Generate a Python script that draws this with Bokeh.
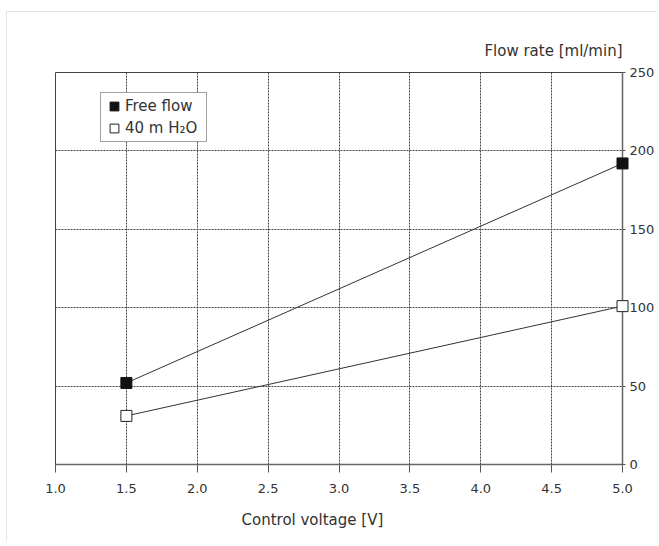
from bokeh.plotting import figure
from bokeh.models import (ColumnDataSource, Range1d, FixedTicker,
                          Legend, LegendItem, Title, NumeralTickFormatter)
from bokeh.embed import file_html
from bokeh.resources import INLINE

# ---- data ----
voltage = [1.5, 5.0]
free_flow = [52, 192]
h2o_40m = [31, 101]
x_ticks = [1.0, 1.5, 2.0, 2.5, 3.0, 3.5, 4.0, 4.5, 5.0]
y_ticks = [0, 50, 100, 150, 200, 250]
series_names = ["Free flow", "40 m H\u2082O"]
x_title = "Control voltage [V]"
y_title = "Flow rate [ml/min]"

FONT = "DejaVu Sans"
TXT = "#333333"
FS = "13px"
FS2 = "15px"

p = figure(width=650, height=530, x_range=Range1d(1.0, 5.0), y_range=Range1d(0, 250),
           output_backend="svg", toolbar_location=None, y_axis_location="right",
           min_border_left=48, min_border_right=35, min_border_top=60, min_border_bottom=78)
p.styles = {"border-top": "1px solid #e4e4e4", "border-left": "1px solid #e4e4e4",
            "margin-top": "11px", "margin-left": "6px"}

p.outline_line_color = "#444444"
p.outline_line_width = 1

# x axis
xa = p.xaxis[0]
xa.ticker = FixedTicker(ticks=x_ticks)
xa.formatter = NumeralTickFormatter(format="0.0")
xa.major_tick_out = 8
xa.major_tick_in = 0
xa.minor_tick_line_color = None
xa.axis_line_color = "#666666"
xa.axis_line_width = 1.5
xa.major_tick_line_color = "#555555"
xa.major_label_text_font = FONT
xa.major_label_text_font_size = FS
xa.major_label_text_color = TXT
xa.major_label_standoff = 11

# right y axis
ya = p.yaxis[0]
ya.ticker = FixedTicker(ticks=y_ticks)
ya.major_tick_out = 3
ya.major_tick_in = 0
ya.minor_tick_line_color = None
ya.axis_line_color = "#666666"
ya.axis_line_width = 1.5
ya.major_tick_line_color = "#555555"
ya.major_label_text_font = FONT
ya.major_label_text_font_size = FS
ya.major_label_text_color = TXT
ya.major_label_standoff = 4

# grids
for g in (p.xgrid[0], p.ygrid[0]):
    g.grid_line_color = "#444444"
    g.grid_line_dash = "2 1"
    g.grid_line_width = 1
p.xgrid[0].ticker = FixedTicker(ticks=x_ticks)
p.ygrid[0].ticker = FixedTicker(ticks=y_ticks)

# y axis title at top right
t = Title(text=y_title, align="right", text_font=FONT,
          text_font_size=FS2, text_font_style="normal", text_color=TXT,
          standoff=26)
p.add_layout(t, "above")

# x axis title below
tb = Title(text=x_title, align="left", offset=186, text_font=FONT,
           text_font_size=FS2, text_font_style="normal", text_color=TXT,
           standoff=26)
p.add_layout(tb, "below")

src = ColumnDataSource(dict(x=voltage, ff=free_flow, h=h2o_40m))
p.line("x", "ff", source=src, line_color="#333333", line_width=1)
p.line("x", "h", source=src, line_color="#333333", line_width=1)
r1 = p.scatter("x", "ff", source=src, marker="square", size=11,
               fill_color="#111111", line_color="#111111", line_width=1, level="overlay")
r2 = p.scatter("x", "h", source=src, marker="square", size=11,
               fill_color="white", line_color="#222222", line_width=1, level="overlay")

leg = Legend(items=[LegendItem(label=series_names[0], renderers=[r1]),
                    LegendItem(label=series_names[1], renderers=[r2])],
             location=(45, 322), glyph_width=22, glyph_height=22, label_height=16,
             label_width=79, spacing=-3, padding=2, label_standoff=-3, margin=0,
             border_line_color="#444444", border_line_width=1,
             background_fill_color="white", background_fill_alpha=1,
             label_text_font=FONT, label_text_font_size=FS2, label_text_color=TXT)
p.add_layout(leg, "center")

open("out.html", "w").write(file_html(p, INLINE))
